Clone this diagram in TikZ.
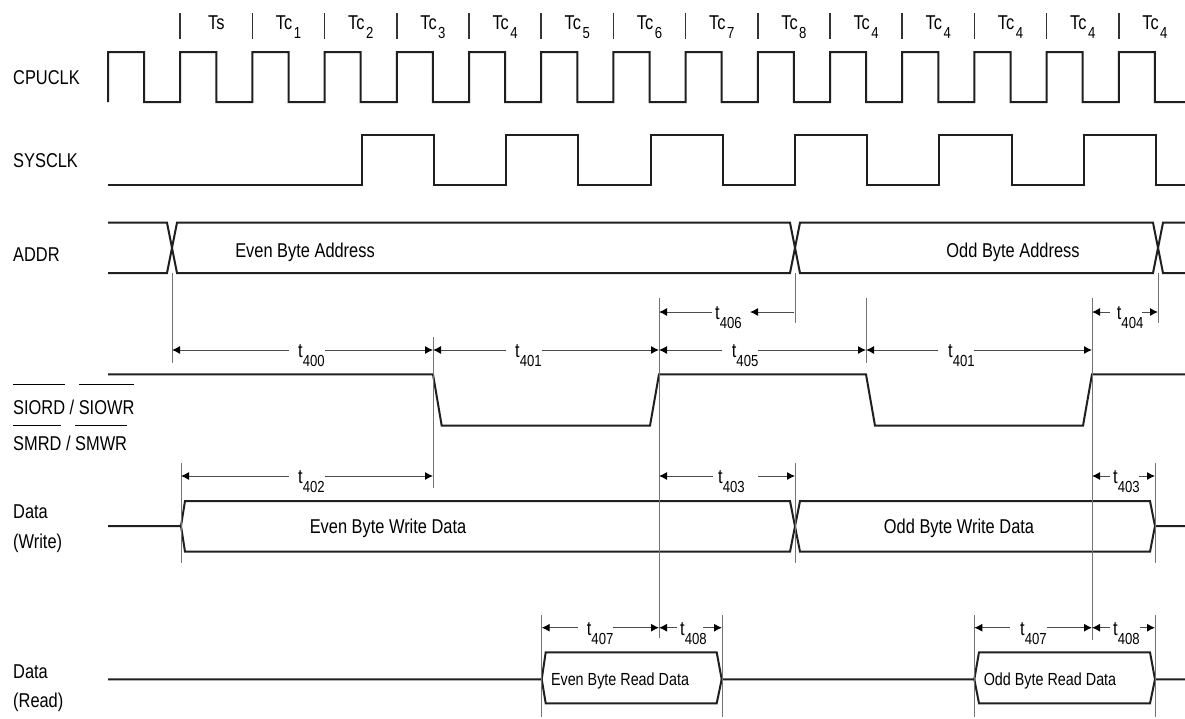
\documentclass[tikz,border=0pt]{standalone}
\usepackage{fontspec}
\setmainfont[FakeStretch=0.82]{Liberation Sans}
\usetikzlibrary{arrows.meta}
\newcommand\mainf{\fontsize{20}{22}\selectfont}
\newcommand\subf{\fontsize{16}{16}\selectfont}
\newcommand\readf{\fontsize{17.5}{19}\selectfont}
\newcommand\tsub[2]{#1\raisebox{-9pt}{\subf #2}}
\newcommand\tcsub[1]{Tc\kern1.5pt\raisebox{-9pt}{\subf #1}}
\newcommand\ovl[2][15pt]{\vbox{\hrule height 1pt\kern #1\hbox{#2}}}
\begin{document}
\begin{tikzpicture}[x=1pt,y=-1pt,
  wave/.style={line width=2pt, color=black!88, line join=miter},
  guide/.style={line width=0.9pt, color=black!55},
  dimarr/.style={line width=1pt, color=black!70, -{Latex[length=8pt,width=8pt,color=black]}},
  lbl/.style={font=\mainf, inner sep=0pt, anchor=base west},
  txt/.style={font=\mainf, inner sep=0pt, anchor=base},
  rtxt/.style={font=\readf, inner sep=0pt, anchor=base},
  tlab/.style={font=\mainf, inner sep=0pt, anchor=base west},
  tick/.style={line width=1.5pt, color=black!80}]
\fill[white] (0,0) rectangle (1185,718);
\useasboundingbox (0,0) rectangle (1185,718);

% signal names
\node[lbl] (cpu) at (13,84) {CPUCLK};
\node[lbl] (sys) at (13,167) {SYSCLK};
\node[lbl] (addr) at (13,261.7) {ADDR};
\node[lbl] (sio) at (13,414) {\ovl{SIORD} / \ovl{SIOWR}};
\node[lbl] (smr) at (13,450) {\ovl[10pt]{SMRD} / \ovl[10pt]{SMWR}};
\node[lbl] (dw1) at (13,518) {Data};
\node[lbl] (dw2) at (13,548) {(Write)};
\node[lbl] (dr1) at (13,678) {Data};
\node[lbl] (dr2) at (13,707) {(Read)};

% state ticks and labels
\foreach \k in {1,...,14} { \draw[tick] ({108+72.2*\k},13) -- ({108+72.2*\k},39); }
\foreach \k/\t in {1/{Ts},2/{\tcsub{1}},3/{\tcsub{2}},4/{\tcsub{3}},5/{\tcsub{4}},
  6/{\tcsub{5}},7/{\tcsub{6}},8/{\tcsub{7}},9/{\tcsub{8}},10/{\tcsub{4}},
  11/{\tcsub{4}},12/{\tcsub{4}},13/{\tcsub{4}},14/{\tcsub{4}}}
  { \node[txt] (st\k) at ({144.1+72.2*\k},29) {\t}; }

% CPUCLK
\draw[wave] (108,102) \foreach \k in {0,...,13} { -- ({108+72.2*\k},52) -- ({144.1+72.2*\k},52)
  -- ({144.1+72.2*\k},102) -- ({180.2+72.2*\k},102) } -- (1118.8,52) -- (1154.9,52) -- (1154.9,102) -- (1185,102);

% SYSCLK
\draw[wave] (108,185) \foreach \m in {0,...,5} { -- ({361.7+144.4*\m},185) -- ({361.7+144.4*\m},135)
  -- ({433.9+144.4*\m},135) -- ({433.9+144.4*\m},185) } -- (1185,185);

% ADDR
\draw[wave] (108,222.7) -- (167,222.7) -- (177,273) -- (790,273) -- (800,222.7) -- (1153,222.7) -- (1163,273) -- (1185,273);
\draw[wave] (108,273) -- (167,273) -- (177,222.7) -- (790,222.7) -- (800,273) -- (1153,273) -- (1163,222.7) -- (1185,222.7);
\node[txt] (ea) at (305,257) {Even Byte Address};
\node[txt] (oa) at (1013,257) {Odd Byte Address};

% SIORD
\draw[wave] (108,374.3) -- (433,374.3) -- (441.7,425.7) -- (650,425.7) -- (659,374.3) -- (866,374.3)
  -- (875,425.7) -- (1083,425.7) -- (1092,374.3) -- (1185,374.3);

% Data write
\draw[wave] (108,526) -- (181,526) -- (185,501) -- (790,501) -- (800,551.7) -- (1150,551.7) -- (1155,526) -- (1185,526);
\draw[wave] (181,526) -- (185,551.7) -- (790,551.7) -- (800,501) -- (1150,501) -- (1155,526);
\node[txt] (ew) at (388,533) {Even Byte Write Data};
\node[txt] (ow) at (959,533) {Odd Byte Write Data};

% Data read
\draw[wave] (108,679.3) -- (541.7,679.3) -- (545.7,652.3) -- (716.7,652.3) -- (721.7,679.3) -- (974.3,679.3)
  -- (979,652.3) -- (1150,652.3) -- (1155,679.3) -- (1185,679.3);
\draw[wave] (541.7,679.3) -- (545.7,703.3) -- (716.7,703.3) -- (721.7,679.3);
\draw[wave] (974.3,679.3) -- (979,703.3) -- (1150,703.3) -- (1155,679.3);
\node[rtxt] (er) at (620,685.7) {Even Byte Read Data};
\node[rtxt] (or) at (1050,685.7) {Odd Byte Read Data};

% guide lines
\draw[guide] (172,273) -- (172,363);
\draw[guide] (433,337) -- (433,488);
\draw[guide] (659,298) -- (659,638);
\draw[guide] (795,273) -- (795,323);
\draw[guide] (866,298) -- (866,363);
\draw[guide] (1092,298) -- (1092,640);
\draw[guide] (1158,273) -- (1158,323);
\draw[guide] (181,463) -- (181,563);
\draw[guide] (795,463) -- (795,563);
\draw[guide] (1155,463) -- (1155,563);
\draw[guide] (541.7,615) -- (541.7,717);
\draw[guide] (722,615) -- (722,717);
\draw[guide] (974.3,615) -- (974.3,717);
\draw[guide] (1155,615) -- (1155,717);

% timing dimensions
\draw[dimarr] (289,350) -- (172,350); \draw[dimarr] (325,350) -- (433,350);
\node[tlab] (t400) at (298,357) {\tsub{t}{400}};
\draw[dimarr] (506,350) -- (433,350); \draw[dimarr] (542,350) -- (659,350);
\node[tlab] (t401a) at (515,357) {\tsub{t}{401}};
\draw[dimarr] (721.7,350) -- (659,350); \draw[dimarr] (758,350) -- (866,350);
\node[tlab] (t405) at (731.7,357) {\tsub{t}{405}};
\draw[dimarr] (938,350) -- (866,350); \draw[dimarr] (974,350) -- (1092,350);
\node[tlab] (t401b) at (948,357) {\tsub{t}{401}};
\draw[dimarr] (711.7,312) -- (659,312); \draw[dimarr] (794,312) -- (750,312);
\node[tlab] (t406) at (715,319) {\tsub{t}{406}};
\draw[dimarr] (1110,312) -- (1092,312); \draw[dimarr] (1141.7,312) -- (1158,312);
\node[tlab] (t404) at (1116.7,319) {\tsub{t}{404}};
\draw[dimarr] (289,476) -- (181,476); \draw[dimarr] (325,476) -- (433,476);
\node[tlab] (t402) at (298,483) {\tsub{t}{402}};
\draw[dimarr] (713,476) -- (659,476); \draw[dimarr] (758,476) -- (795,476);
\node[tlab] (t403a) at (718,483) {\tsub{t}{403}};
\draw[dimarr] (1110,476) -- (1092,476); \draw[dimarr] (1139,476) -- (1155,476);
\node[tlab] (t403b) at (1113,483) {\tsub{t}{403}};
\draw[dimarr] (578,627.7) -- (541.7,627.7); \draw[dimarr] (613,627.7) -- (659,627.7);
\node[tlab] (t407a) at (586.7,635.7) {\tsub{t}{407}};
\draw[dimarr] (676.7,627.7) -- (659,627.7); \draw[dimarr] (703,627.7) -- (722,627.7);
\node[tlab] (t408a) at (680,635.7) {\tsub{t}{408}};
\draw[dimarr] (1010,627.7) -- (974.3,627.7); \draw[dimarr] (1046.7,627.7) -- (1092,627.7);
\node[tlab] (t407b) at (1020,635.7) {\tsub{t}{407}};
\draw[dimarr] (1110,627.7) -- (1092,627.7); \draw[dimarr] (1140,627.7) -- (1155,627.7);
\node[tlab] (t408b) at (1113,635.7) {\tsub{t}{408}};
\end{tikzpicture}
\end{document}
